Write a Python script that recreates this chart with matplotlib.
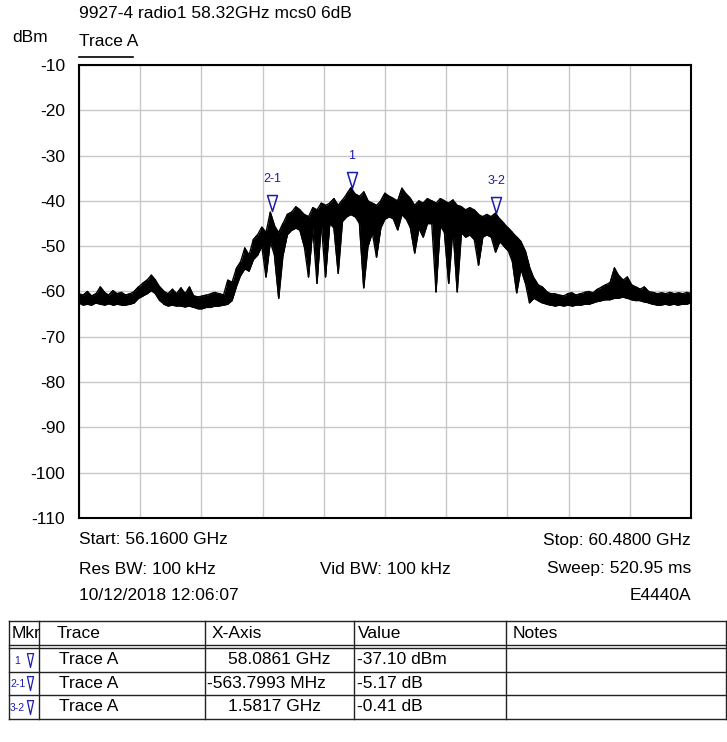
import numpy as np
import matplotlib
matplotlib.use("Agg")
import matplotlib.pyplot as plt
from matplotlib.path import Path

plt.rcParams['font.family'] = ['Liberation Sans', 'DejaVu Sans']

# ---------------- data ----------------
title = "9927-4 radio1 58.32GHz mcs0 6dB"
start_ghz = 56.16
stop_ghz = 60.48
y_ticks = [-10, -20, -30, -40, -50, -60, -70, -80, -90, -100, -110]

# trace: per-bin peak (hi) and pit (lo) in dBm, 145 sweep bins across span
trace_hi = [
    -60.5, -60.8, -60.0, -61.0, -60.5, -59.0, -60.2, -60.8, -59.8, -60.5,
    -60.2, -60.8, -60.5, -60.0, -59.0, -58.2, -57.5, -56.4, -57.5, -59.0,
    -60.0, -60.5, -59.5, -60.5, -59.2, -60.5, -59.0, -61.0, -61.2, -61.0,
    -60.8, -60.5, -60.2, -60.5, -60.8, -57.5, -58.0, -55.0, -53.5, -50.4,
    -52.0, -48.6, -47.5, -45.8, -47.0, -42.5, -45.5, -47.0, -45.0, -43.0,
    -42.5, -41.3, -42.0, -43.0, -43.5, -41.5, -42.0, -40.5, -41.0, -40.5,
    -39.5, -41.0, -39.8, -38.5, -37.1, -38.5, -39.0, -38.0, -40.0, -40.5,
    -41.0, -40.0, -38.3, -39.0, -39.5, -40.0, -37.2, -38.5, -39.5, -41.0,
    -40.0, -40.5, -39.5, -40.0, -40.5, -39.5, -40.0, -40.5, -39.8, -41.0,
    -41.3, -42.0, -41.5, -42.0, -43.0, -43.5, -43.0, -43.5, -42.7, -44.0,
    -45.0, -46.0, -47.0, -48.0, -49.0, -51.0, -54.6, -57.0, -58.5, -59.0,
    -60.0, -60.5, -60.5, -60.8, -61.0, -60.5, -60.3, -60.8, -60.5, -60.2,
    -60.0, -60.3, -59.5, -59.0, -58.5, -58.0, -54.8, -56.5, -57.5, -56.8,
    -58.5, -59.0, -59.5, -59.0, -60.0, -60.2, -60.5, -60.3, -60.5, -60.2,
    -60.5, -60.3, -60.5, -60.2, -60.5,
]
trace_lo = [
    -62.5, -63.0, -62.8, -63.0, -62.5, -62.8, -63.0, -62.7, -63.0, -62.8,
    -63.0, -63.0, -62.8, -62.5, -61.5, -61.0, -60.5, -59.8, -60.5, -62.0,
    -62.8, -63.2, -63.0, -63.2, -63.2, -63.4, -63.2, -63.5, -63.8, -63.8,
    -63.5, -63.5, -63.2, -63.2, -63.0, -62.8, -62.0, -59.0, -56.5, -55.0,
    -55.5, -53.0, -52.0, -50.0, -56.8, -49.0, -52.0, -61.5, -52.0, -47.5,
    -46.5, -46.0, -46.5, -50.0, -56.8, -46.0, -58.2, -45.0, -56.8, -45.0,
    -46.0, -56.0, -44.5, -43.5, -43.0, -43.5, -45.0, -59.2, -50.0, -47.0,
    -52.4, -46.0, -44.0, -43.5, -44.0, -46.4, -43.0, -44.0, -46.0, -51.5,
    -46.0, -48.0, -45.0, -45.0, -60.1, -45.5, -47.0, -58.2, -46.0, -60.1,
    -47.0, -48.0, -47.5, -48.5, -54.2, -48.0, -47.5, -48.0, -51.3, -49.0,
    -50.0, -51.0, -53.5, -60.3, -55.0, -58.0, -62.5, -61.5, -62.0, -62.5,
    -62.8, -63.0, -63.2, -63.0, -63.2, -63.0, -63.2, -63.0, -63.0, -62.8,
    -62.8, -62.5, -62.2, -62.0, -61.8, -61.8, -61.5, -61.5, -61.2, -61.5,
    -61.8, -62.0, -62.0, -62.3, -62.5, -62.8, -63.0, -63.0, -62.8, -63.0,
    -62.8, -63.0, -62.8, -62.8, -62.5,
]

# markers (from the marker table)
mkr_names = ["1", "2-1", "3-2"]
mkr1_freq_ghz = 58.0861
mkr1_level_dbm = -37.10
delta_freq_ghz = [0.0, -0.5637993, 1.5817]
delta_level_db = [0.0, -5.17, -0.41]
table_trace = ["Trace A", "Trace A", "Trace A"]
table_xaxis = ["58.0861 GHz", "-563.7993 MHz", "1.5817 GHz"]
table_value = ["-37.10 dBm", "-5.17 dB", "-0.41 dB"]

info_left = ["Start: 56.1600 GHz", "Res BW: 100 kHz", "10/12/2018 12:06:07"]
info_mid = ["", "Vid BW: 100 kHz", ""]
info_right = ["Stop: 60.4800 GHz", "Sweep: 520.95 ms", "E4440A"]

# ---------------- figure ----------------
W, H = 727, 742
fig = plt.figure(figsize=(W / 100, H / 100), dpi=100)
L, R, T, B = 79, 691, 65, 518
ax = fig.add_axes([L / W, 1 - B / H, (R - L) / W, (B - T) / H])

freq = np.linspace(start_ghz, stop_ghz, len(trace_hi))
hi = np.array(trace_hi)
lo = np.array(trace_lo)
ax.fill_between(freq, lo, hi, color='black', lw=0, zorder=3)
ax.plot(freq, hi, color='black', lw=1.0, zorder=3)
ax.plot(freq, lo, color='black', lw=1.0, zorder=3)
xs = np.repeat(freq, 2)
ys = []
for i, (h, l) in enumerate(zip(trace_hi, trace_lo)):
    ys.extend([h, l] if i % 2 == 0 else [l, h])
ax.plot(xs, ys, color='black', lw=1.0, zorder=3)

ax.set_xlim(start_ghz, stop_ghz)
ax.set_ylim(-110, -10)
ax.set_xticks(np.linspace(start_ghz, stop_ghz, 11))
ax.set_yticks(y_ticks)
ax.set_yticklabels([str(v) for v in y_ticks], fontsize=12.5)
ax.tick_params(axis='x', labelbottom=False, length=0)
ax.tick_params(axis='y', length=0, pad=10)
ax.grid(True, color='#c8c8c8', lw=1.0, zorder=0)
for s in ax.spines.values():
    s.set_linewidth(1.5)
    s.set_color('black')

# marker triangles
tri = Path([(-0.3125, 1.0), (0.3125, 1.0), (0.0, 0.0), (-0.3125, 1.0)],
           [Path.MOVETO, Path.LINETO, Path.LINETO, Path.CLOSEPOLY])
tri_small = Path([(-0.22, 1.0), (0.22, 1.0), (0.0, 0.0), (-0.22, 1.0)],
                 [Path.MOVETO, Path.LINETO, Path.LINETO, Path.CLOSEPOLY])
mcol = '#1c1ca8'
f_ref, l_ref = mkr1_freq_ghz, mkr1_level_dbm
for k, name in enumerate(mkr_names):
    if k == 0:
        f, lv = mkr1_freq_ghz, mkr1_level_dbm
    else:
        f, lv = f_ref + delta_freq_ghz[k], l_ref + delta_level_db[k]
    f_ref, l_ref = f, lv
    ax.plot([f], [lv], marker=tri, markersize=23, markerfacecolor='none',
            markeredgecolor=mcol, markeredgewidth=1.1, zorder=5)
    ax.annotate(name, (f, lv), xytext=(0, 23), textcoords='offset points',
                ha='center', va='center', fontsize=9, color=mcol)

# overlay in pixel coordinates for surrounding text/table
ov = fig.add_axes([0, 0, 1, 1])
ov.set_xlim(0, W)
ov.set_ylim(H, 0)
ov.axis('off')
ov.patch.set_alpha(0)

fs = 12.5
ov.text(L, 13, title, fontsize=fs, va='center', ha='left')
ov.text(12, 37, "dBm", fontsize=fs, va='center', ha='left')
ov.text(L, 42, "Trace A", fontsize=fs, va='center', ha='left')
ov.plot([L, 133], [57, 57], color='black', lw=1.2)

rows_y = [540, 569, 596]
for y, a, m, b in zip(rows_y, info_left, info_mid, info_right):
    ov.text(L, y, a, fontsize=fs, va='center', ha='left')
    if m:
        ov.text((L + R) / 2, y, m, fontsize=fs, va='center', ha='center')
    ov.text(R, y, b, fontsize=fs, va='center', ha='right')

# table
col_x = [9, 39, 205, 354, 506, 726]
top, hdr_bot = 621, 645
row_h = 23.5
row_tops = [hdr_bot + 3 + i * row_h for i in range(3)]
bottom = row_tops[-1] + row_h
lc = '#222222'
ov.plot([col_x[0], col_x[-1]], [top, top], color=lc, lw=1.0)
ov.plot([col_x[0], col_x[-1]], [hdr_bot, hdr_bot], color=lc, lw=1.0)
ov.plot([col_x[0], col_x[-1]], [hdr_bot + 3, hdr_bot + 3], color=lc, lw=1.0)
for rt in row_tops[1:]:
    ov.plot([col_x[0], col_x[-1]], [rt, rt], color=lc, lw=1.0)
ov.plot([col_x[0], col_x[-1]], [bottom, bottom], color=lc, lw=1.0)
for cx in col_x:
    ov.plot([cx, cx], [top, bottom], color=lc, lw=1.0)

tfs = 12.5
headers = ["Mkr", "Trace", "X-Axis", "Value", "Notes"]
hdr_x = [12, 57, 212, 358, 513]
for hx, htxt in zip(hdr_x, headers):
    ov.text(hx, (top + hdr_bot) / 2, htxt, fontsize=tfs, va='center', ha='left')
x_txt = [228, 207, 228]
for i in range(3):
    yc = row_tops[i] + row_h / 2
    ov.text(14 if i == 0 else 10, yc + 1, mkr_names[i], fontsize=7.5,
            color=mcol, va='center', ha='left')
    ov.plot([30], [yc + 7], marker=tri_small, markersize=20,
            markerfacecolor='none', markeredgecolor=mcol, markeredgewidth=0.9)
    ov.text(59, yc, table_trace[i], fontsize=tfs, va='center', ha='left')
    ov.text(x_txt[i], yc, table_xaxis[i], fontsize=tfs, va='center', ha='left')
    ov.text(357, yc, table_value[i], fontsize=tfs, va='center', ha='left')

fig.savefig("out.png", dpi=100)
